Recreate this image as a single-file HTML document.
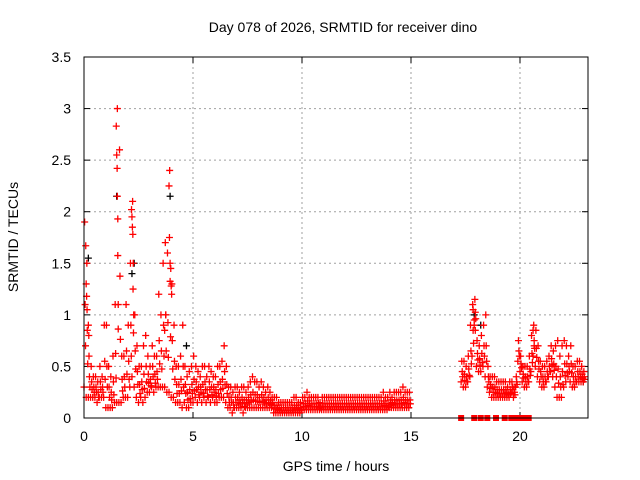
<!DOCTYPE html>
<html><head><meta charset="utf-8"><style>
body{margin:0;background:#fff}
svg{display:block;font-family:"Liberation Sans",sans-serif;font-size:14px}
</style></head><body>
<svg id="chart" width="640" height="480">
<rect width="640" height="480" fill="#fff"/>
<text x="343" y="32" text-anchor="middle">Day 078 of 2026, SRMTID for receiver dino</text>
<text x="336" y="471" text-anchor="middle">GPS time / hours</text>
<text transform="translate(18,237) rotate(-90)" text-anchor="middle">SRMTID / TECUs</text>
<g id="grid"></g>
<g id="ticks"></g>
<g id="marks"></g>
<rect x="84" y="57" width="504" height="361" fill="none" stroke="#000"/>
</svg>
<script>
const xTicks=[0,5,10,15,20];
const yTicks=[0,0.5,1,1.5,2,2.5,3,3.5];
const yTickLabels=["0","0.5","1","1.5","2","2.5","3","3.5"];
const segAStart=0.0, segBStart=17.3, step=0.1;
const segAHi=[1.9,1.5,0.6,0.5,0.4,0.4,0.35,0.5,0.4,0.9,
0.9,0.5,0.4,0.6,1.1,3.0,2.6,0.6,0.6,1.1,
0.9,1.5,2.1,1.0,0.7,0.5,0.5,0.7,0.8,0.6,
0.5,0.7,0.6,0.6,1.2,1.0,1.5,1.7,1.6,2.4,
1.3,0.9,0.5,0.5,0.6,0.9,0.5,0.4,0.45,0.5,
0.6,0.5,0.45,0.4,0.5,0.5,0.4,0.5,0.45,0.4,
0.4,0.5,0.5,0.55,0.7,0.5,0.3,0.3,0.25,0.3,
0.3,0.25,0.3,0.3,0.25,0.3,0.35,0.4,0.35,0.35,
0.3,0.35,0.3,0.25,0.3,0.25,0.2,0.2,0.2,0.15,
0.15,0.15,0.15,0.15,0.15,0.15,0.2,0.2,0.15,0.15,
0.2,0.2,0.25,0.2,0.2,0.2,0.2,0.2,0.15,0.2,
0.2,0.2,0.2,0.2,0.2,0.2,0.2,0.2,0.2,0.2,
0.2,0.2,0.2,0.2,0.2,0.2,0.2,0.2,0.2,0.2,
0.2,0.2,0.2,0.2,0.2,0.2,0.2,0.25,0.2,0.2,
0.25,0.2,0.25,0.25,0.25,0.25,0.3,0.25,0.25,0.25];
const segALo=[0.3,0.2,0.2,0.2,0.2,0.2,0.15,0.2,0.2,0.2,
0.1,0.1,0.1,0.1,0.15,0.15,0.15,0.15,0.2,0.2,
0.2,0.3,0.4,0.3,0.2,0.15,0.2,0.15,0.2,0.25,
0.25,0.3,0.25,0.3,0.3,0.3,0.3,0.3,0.25,0.25,
0.2,0.2,0.15,0.15,0.15,0.1,0.15,0.1,0.1,0.15,
0.15,0.2,0.15,0.2,0.15,0.2,0.15,0.2,0.15,0.2,
0.15,0.15,0.2,0.2,0.2,0.15,0.1,0.1,0.05,0.1,
0.1,0.1,0.1,0.05,0.1,0.1,0.1,0.1,0.1,0.1,
0.1,0.1,0.1,0.1,0.1,0.1,0.1,0.05,0.05,0.05,
0.05,0.05,0.05,0.05,0.05,0.05,0.05,0.05,0.05,0.05,
0.08,0.08,0.08,0.08,0.08,0.08,0.08,0.08,0.08,0.08,
0.08,0.08,0.08,0.08,0.08,0.08,0.08,0.08,0.08,0.08,
0.08,0.08,0.08,0.08,0.08,0.08,0.08,0.08,0.08,0.08,
0.08,0.08,0.08,0.08,0.08,0.08,0.08,0.08,0.08,0.08,
0.1,0.1,0.1,0.1,0.1,0.1,0.1,0.1,0.1,0.1];
const segBHi=[0.55,0.55,0.5,0.6,0.9,1.1,1.15,
0.75,0.7,0.8,0.9,1.0,0.5,0.4,0.4,0.4,0.35,
0.35,0.35,0.35,0.35,0.3,0.35,0.35,0.3,0.4,0.75,
0.6,0.5,0.5,0.5,0.6,0.8,0.9,0.85,0.7,0.55,
0.5,0.5,0.55,0.6,0.7,0.65,0.7,0.75,0.6,0.7,
0.75,0.7,0.6,0.7,0.5,0.5,0.55,0.55,0.5,0.45];
const segBLo=[0.35,0.3,0.3,0.35,0.4,0.6,0.9,
0.5,0.45,0.45,0.5,0.4,0.3,0.25,0.2,0.2,0.2,
0.2,0.2,0.2,0.2,0.2,0.2,0.25,0.2,0.3,0.55,
0.45,0.35,0.3,0.3,0.35,0.45,0.6,0.5,0.4,0.35,
0.3,0.3,0.35,0.4,0.45,0.4,0.3,0.2,0.2,0.2,
0.3,0.35,0.4,0.35,0.3,0.3,0.35,0.35,0.35,0.35];
const spikeT=[0.08,0.1,0.12,0.14,0.2,0.22,1.48,1.5,1.52,1.53,1.55,1.57,2.18,2.2,2.22,2.24,2.26,2.28,3.9,3.92,3.95,3.98,4.0,4.02,3.7,3.75,17.85,17.9,17.95,20.6,20.65];
const spikeV=[1.67,1.3,1.18,1.05,0.9,0.8,2.83,2.55,2.42,2.15,1.93,1.1,2.02,1.95,1.85,1.78,1.5,1.0,2.25,1.75,1.5,1.45,1.28,1.2,0.85,1.0,1.05,0.95,0.85,0.85,0.7];
const zeroTimes=[17.3,17.9,18.2,18.5,18.9,19.3,19.6,19.8,19.9,20.1,20.2,20.4];
const blackT=[0.2,1.5,2.2,2.3,3.95,4.7,17.9,18.2,22.9];
const blackV=[1.55,2.15,1.4,1.5,2.15,0.7,1.0,0.9,0.35];

const X0=84,X1=588,Y0=418,Y1=57,XMAX=23.12,YMAX=3.5;
const sx=t=>X0+t/XMAX*(X1-X0);
const sy=v=>Y0-v/YMAX*(Y0-Y1);
const NS="http://www.w3.org/2000/svg";
const grid=document.getElementById('grid'),ticks=document.getElementById('ticks'),marks=document.getElementById('marks');
function mk(tag,attrs,parent){const e=document.createElementNS(NS,tag);for(const k in attrs)e.setAttribute(k,attrs[k]);parent.appendChild(e);return e;}
xTicks.forEach(t=>{
  const x=sx(t);
  if(t>0){const g=mk('line',{x1:x,x2:x,y1:Y1,y2:Y0,stroke:'#a0a0a0','stroke-dasharray':'2,3'},grid);
  
  }
  mk('line',{x1:x,x2:x,y1:Y0,y2:Y0-6,stroke:'#000'},ticks);
  mk('line',{x1:x,x2:x,y1:Y1,y2:Y1+6,stroke:'#000'},ticks);
  const l=mk('text',{x:x,y:Y0+23,'text-anchor':'middle'},ticks);l.textContent=String(t);
  
  
});
yTicks.forEach((v,i)=>{
  const y=sy(v);
  if(v>0&&v<YMAX){const g=mk('line',{x1:X0,x2:X1,y1:y,y2:y,stroke:'#a0a0a0','stroke-dasharray':'2,3'},grid);
  
  }
  mk('line',{x1:X0,x2:X0+6,y1:y,y2:y,stroke:'#000'},ticks);
  mk('line',{x1:X1,x2:X1-6,y1:y,y2:y,stroke:'#000'},ticks);
  const l=mk('text',{x:71,y:y+5,'text-anchor':'end'},ticks);l.textContent=yTickLabels[i];
  
  
});
function plus(t,v,color){
  const x=sx(t),y=sy(v);
  const p=mk('path',{d:`M${x-3.5},${y}h7M${x},${y-3.5}v7`,stroke:color,'stroke-width':1.3,fill:'none'},marks);
  
  
}
function seg(start,hi,lo){
  hi.forEach((h,i)=>{
    const t=start+i*step, l=lo[i];
    plus(t,l,'#f00');plus(t+0.05,(l+h)/2,'#f00');plus(t+0.03,h,'#f00');
    plus(t+0.07,l+(h-l)*0.25,'#f00');
  });
}
blackT.forEach((t,i)=>plus(t,blackV[i],'#000'));
seg(segAStart,segAHi,segALo);
seg(segBStart,segBHi,segBLo);
spikeT.forEach((t,i)=>plus(t,spikeV[i],'#f00'));
zeroTimes.forEach(t=>{const r=mk('rect',{x:sx(t)-3,y:sy(0)-3,width:6,height:6,fill:'#f00'},marks);

});
</script>
</body></html>
